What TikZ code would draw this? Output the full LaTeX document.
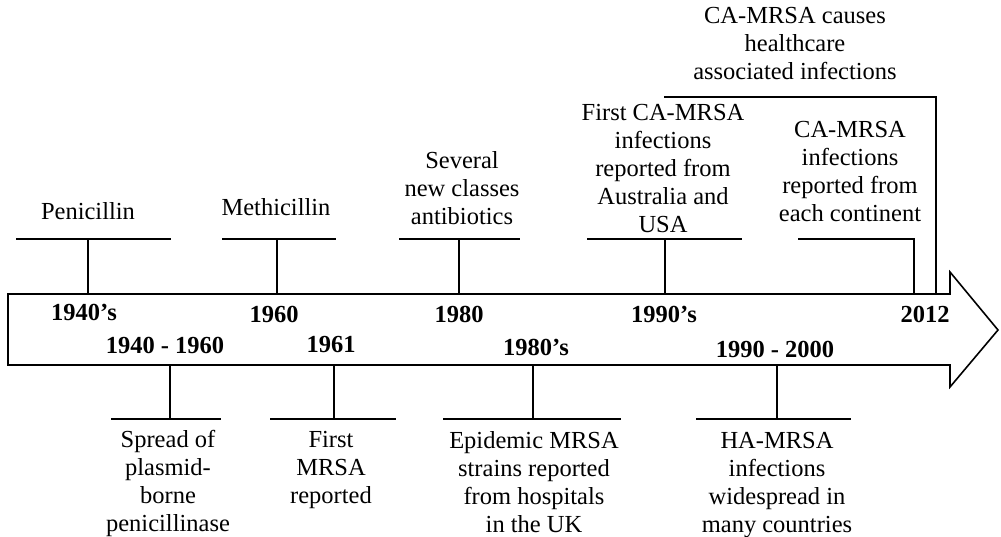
\documentclass[tikz,border=0pt]{standalone}
\usepackage{fontspec}
\setmainfont{Liberation Serif}
\begin{document}
\begin{tikzpicture}[x=1pt,y=-1pt,
  lbl/.style={font=\fontsize{24.5}{28}\selectfont, align=center, inner sep=0pt, anchor=base},
  yr/.style={font=\fontsize{24.5}{28}\selectfont\bfseries, inner sep=0pt, anchor=base},
  ln/.style={line width=1.6pt}]
\useasboundingbox (0,0) rectangle (1001,537);
% timeline arrow
\draw[ln, line join=miter] (8,294) coordinate (top) -- (950,294) -- (950,272) -- (998,330) -- (950,387) -- (950,365) coordinate (bot) -- (8,365) -- cycle;
% top labels (anchor = baseline of last line)
\node[lbl] (pen) at (88,220) {Penicillin};
\node[lbl] (met) at (276,216) {Methicillin};
\node[lbl] (sev) at (462,225) {Several\\new classes\\antibiotics};
\node[lbl] (fca) at (663,233) {First CA-MRSA\\infections\\reported from\\Australia and\\USA};
\node[lbl] (con) at (850,222) {CA-MRSA\\infections\\reported from\\each continent};
\node[lbl] (hca) at (795,80) {CA-MRSA causes\\healthcare\\associated infections};
% bottom labels (anchor = baseline of last line)
\node[lbl] (spr) at (168,531) {Spread of\\plasmid-\\borne\\penicillinase};
\node[lbl] (fmr) at (331,503) {First\\MRSA\\reported};
\node[lbl] (epi) at (534,532) {Epidemic MRSA\\strains reported\\from hospitals\\in the UK};
\node[lbl] (ham) at (777,532) {HA-MRSA\\infections\\widespread in\\many countries};
% years
\node[yr] (y1) at (84,320) {1940’s};
\node[yr] (y2) at (274,322) {1960};
\node[yr] (y3) at (459,322) {1980};
\node[yr] (y4) at (664,323) {1990’s};
\node[yr] (y5) at (925,322) {2012};
\node[yr] (y6) at (165,353) {1940 - 1960};
\node[yr] (y7) at (331,352) {1961};
\node[yr] (y8) at (536,355) {1980’s};
\node[yr] (y9) at (775,357) {1990 - 2000};
% top bars and stems
\coordinate (b1) at (88,239);  \draw[ln] (16,239) -- (171,239);  \draw[ln] (b1) -- (b1 |- top);
\coordinate (b2) at (277,239); \draw[ln] (222,239) -- (336,239); \draw[ln] (b2) -- (b2 |- top);
\coordinate (b3) at (459,239); \draw[ln] (399,239) -- (520,239); \draw[ln] (b3) -- (b3 |- top);
\coordinate (b4) at (665,239); \draw[ln] (587,239) -- (742,239); \draw[ln] (b4) -- (b4 |- top);
\coordinate (b5) at (914,239); \draw[ln] (798,239) -- (b5) -- (b5 |- top);
\coordinate (b6) at (936,97);  \draw[ln] (664,97) -- (b6) -- (b6 |- top);
% bottom bars and stems
\coordinate (c1) at (170,419); \draw[ln] (111,419) -- (221,419); \draw[ln] (c1) -- (c1 |- bot);
\coordinate (c2) at (334,419); \draw[ln] (270,419) -- (396,419); \draw[ln] (c2) -- (c2 |- bot);
\coordinate (c3) at (533,419); \draw[ln] (443,419) -- (621,419); \draw[ln] (c3) -- (c3 |- bot);
\coordinate (c4) at (777,419); \draw[ln] (696,419) -- (851,419); \draw[ln] (c4) -- (c4 |- bot);
\end{tikzpicture}
\end{document}
